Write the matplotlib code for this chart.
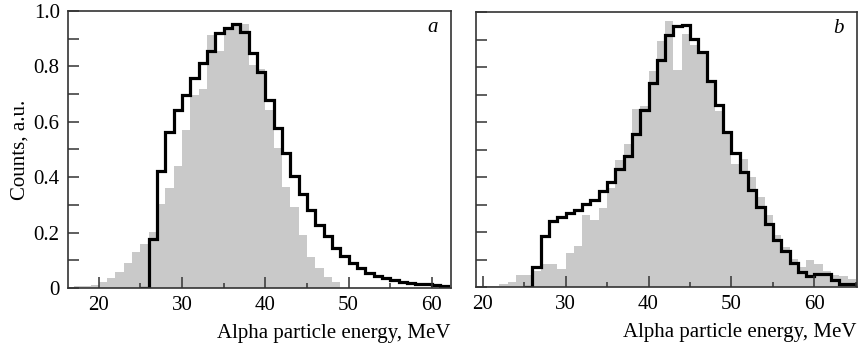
import numpy as np
import matplotlib.pyplot as plt
from matplotlib.ticker import MultipleLocator

plt.rcParams['font.family'] = ['Liberation Serif', 'DejaVu Serif']
plt.rcParams['font.size'] = 15

# Panel a: gray histogram (bins of 1 MeV starting at 17 MeV)
a_gray_start = 17
a_gray = [0.006, 0.008, 0.012, 0.020, 0.035, 0.056, 0.089, 0.129, 0.160, 0.203,
          0.303, 0.362, 0.440, 0.570, 0.697, 0.720, 0.913, 0.855, 0.940, 0.950,
          0.952, 0.805, 0.790, 0.643, 0.504, 0.366, 0.294, 0.191, 0.113, 0.071,
          0.041, 0.023]
# Panel a: black outline histogram (starting at 25 MeV)
a_line_start = 25
a_line = [0.0, 0.177, 0.424, 0.562, 0.643, 0.697, 0.757, 0.813, 0.857, 0.919,
          0.938, 0.953, 0.925, 0.847, 0.780, 0.679, 0.577, 0.486, 0.404, 0.338,
          0.282, 0.227, 0.188, 0.143, 0.116, 0.091, 0.071, 0.055, 0.043, 0.035,
          0.029, 0.023, 0.019, 0.016, 0.013, 0.010, 0.007]

# Panel b
b_gray_start = 20
b_gray = [0.004, 0.005, 0.010, 0.018, 0.042, 0.042, 0.060, 0.083, 0.085, 0.067,
          0.124, 0.148, 0.261, 0.243, 0.287, 0.360, 0.461, 0.522, 0.649, 0.660,
          0.786, 0.895, 0.968, 0.790, 0.920, 0.880, 0.850, 0.750, 0.640, 0.570,
          0.449, 0.467, 0.400, 0.327, 0.261, 0.188, 0.146, 0.103, 0.073, 0.100,
          0.085, 0.060, 0.045, 0.039, 0.030]
b_line_start = 25
b_line = [0.0, 0.073, 0.185, 0.242, 0.255, 0.269, 0.281, 0.301, 0.318, 0.349,
          0.384, 0.430, 0.479, 0.558, 0.643, 0.744, 0.826, 0.918, 0.950, 0.955,
          0.905, 0.855, 0.752, 0.664, 0.564, 0.489, 0.420, 0.352, 0.290, 0.228,
          0.171, 0.130, 0.088, 0.056, 0.041, 0.049, 0.046, 0.027, 0.012, 0.011]

y_ticks = [0, 0.1, 0.2, 0.3, 0.4, 0.5, 0.6, 0.7, 0.8, 0.9, 1.0]
y_labels = ['0', '', '0.2', '', '0.4', '', '0.6', '', '0.8', '', '1.0']
x_ticks = [20, 30, 40, 50, 60]
xlabel = 'Alpha particle energy, MeV'

gray = '#c9c9c9'
frame = '#333333'

fig = plt.figure(figsize=(8.58, 3.49), dpi=100)
ax_a = fig.add_axes([0.0793, 0.1748, 0.4463, 0.7937])
ax_b = fig.add_axes([0.5548, 0.1777, 0.4437, 0.7865])

panels = [
    (ax_a, a_gray_start, a_gray, a_line_start, a_line, (16.3, 62.3), 'a'),
    (ax_b, b_gray_start, b_gray, b_line_start, b_line, (19.2, 65.1), 'b'),
]

for ax, gs, gv, ls, lv, xlim, tag in panels:
    g_edges = np.arange(gs, gs + len(gv) + 1)
    l_edges = np.arange(ls, ls + len(lv) + 1)
    ax.stairs(gv, g_edges, fill=True, color=gray, linewidth=0)
    ax.stairs(lv, l_edges, color='black', linewidth=2.3)
    ax.set_xlim(*xlim)
    ax.set_ylim(0, 1.0)
    ax.set_xticks(x_ticks)
    ax.xaxis.set_minor_locator(MultipleLocator(5))
    ax.set_yticks(y_ticks)
    ax.tick_params(direction='in', length=8, width=1.1, color=frame, pad=6)
    ax.tick_params(which='minor', direction='in', length=3.5, width=1.1, color=frame)
    for s in ax.spines.values():
        s.set_color(frame)
        s.set_linewidth(1.2)
    ax.set_xlabel(xlabel, ha='right')
    ax.xaxis.set_label_coords(1.0, -0.13)
    ax.text(0.965, 0.975, tag, transform=ax.transAxes, ha='right', va='top',
            style='italic', fontsize=15)

ax_a.set_yticklabels(y_labels)
ax_b.set_yticklabels([])
ax_a.set_ylabel('Counts, a.u.')
ax_a.yaxis.set_label_coords(-0.10, 0.5)

fig.savefig('out.png', dpi=100)
